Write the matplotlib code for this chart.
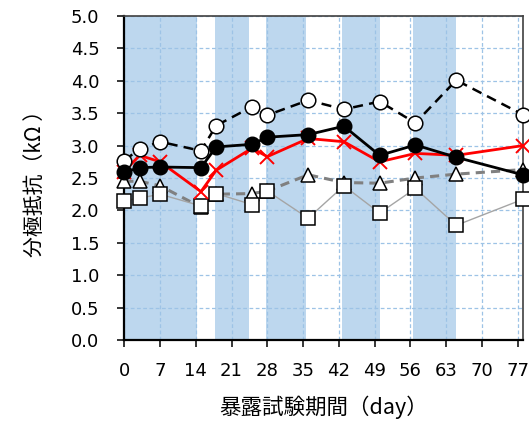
import matplotlib
matplotlib.use("Agg")
import matplotlib.pyplot as plt

plt.rcParams['font.family'] = ['Noto Sans CJK JP', 'DejaVu Sans']

# Exposure days of each measurement
days = [0, 3, 7, 15, 18, 25, 28, 36, 43, 50, 57, 65, 78]

# Polarization resistance (kΩ) for each specimen series
open_circle = [2.77, 2.95, 3.06, 2.92, 3.31, 3.60, 3.47, 3.70, 3.56, 3.68, 3.35, 4.01, 3.48]
filled_circle = [2.59, 2.66, 2.67, 2.66, 2.98, 3.02, 3.13, 3.17, 3.30, 2.85, 3.01, 2.82, 2.55]
red_cross = [2.60, 2.85, 2.75, 2.29, 2.62, 2.96, 2.83, 3.11, 3.06, 2.75, 2.88, 2.85, 3.00]
triangle = [2.45, 2.45, 2.38, 2.05, 2.25, 2.26, 2.30, 2.55, 2.43, 2.42, 2.50, 2.56, 2.63]
square = [2.15, 2.19, 2.25, 2.07, 2.26, 2.09, 2.30, 1.88, 2.38, 1.96, 2.34, 1.77, 2.17]

# Shaded exposure periods (start day, end day)
periods = [(0, 14.2), (17.8, 24.5), (27.8, 35.5), (42.6, 50.0), (56.6, 64.9)]

x_ticks = [0, 7, 14, 21, 28, 35, 42, 49, 56, 63, 70, 77]
y_ticks = [0.0, 0.5, 1.0, 1.5, 2.0, 2.5, 3.0, 3.5, 4.0, 4.5, 5.0]

fig = plt.figure(figsize=(5.29, 4.22), dpi=100)
ax = fig.add_axes([0.235, 0.1943, 0.753, 0.7677])

for s, e in periods:
    ax.axvspan(s, e, color='#BDD7EE', lw=0, zorder=0.2)

ax.set_axisbelow(True)
ax.grid(True, color='#9DC3E6', ls=(0, (3, 2)), lw=0.9)

ax.plot(days, triangle, ls=(0, (3, 2)), color='#808080', lw=2.2, marker='^', ms=10,
        mfc='white', mec='black', mew=1.1, zorder=3, clip_on=False)
ax.plot(days, square, ls='-', color='#A5A5A5', lw=1.0, marker='s', ms=9.5,
        mfc='white', mec='black', mew=1.1, zorder=4, clip_on=False)
ax.plot(days, red_cross, ls='-', color='#FF0000', lw=2.0, marker='x', ms=10,
        mec='#FF0000', mew=1.4, zorder=5, clip_on=False)
ax.plot(days, open_circle, ls=(0, (4, 2.5)), color='black', lw=1.8, marker='o', ms=10.5,
        mfc='white', mec='black', mew=1.1, zorder=6, clip_on=False)
ax.plot(days, filled_circle, ls='-', color='black', lw=2.0, marker='o', ms=10.5,
        mfc='black', mec='black', zorder=7, clip_on=False)

ax.set_xlim(0, 78)
ax.set_ylim(0, 5.0)
ax.set_xticks(x_ticks)
ax.set_yticks(y_ticks)
ax.set_yticklabels([f"{v:.1f}" for v in y_ticks], family='DejaVu Sans')
ax.set_xticklabels([str(v) for v in x_ticks], family='DejaVu Sans')
ax.tick_params(axis='both', direction='out', length=5, width=1.1, labelsize=13, colors='black')
ax.tick_params(axis='x', pad=11)
ax.tick_params(axis='y', pad=13)

for side in ['left', 'bottom']:
    ax.spines[side].set_linewidth(1.6)
for side in ['top', 'right']:
    ax.spines[side].set_linewidth(1.2)
    ax.spines[side].set_color('#404040')

ax.set_xlabel('暴露試験期間（day）', fontsize=15.5, labelpad=11)
ax.set_ylabel('分極抵抗（kΩ ）', fontsize=15, labelpad=18)

fig.savefig('out.png', dpi=100)
